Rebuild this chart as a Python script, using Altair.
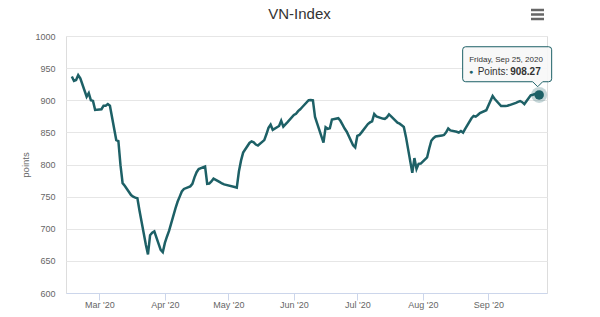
import altair as alt
import pandas as pd

# ---------------- data ----------------
dates = [
    "2020-02-17", "2020-02-18", "2020-02-19", "2020-02-20", "2020-02-21",
    "2020-02-24", "2020-02-25", "2020-02-26", "2020-02-27", "2020-02-28",
    "2020-03-02", "2020-03-03", "2020-03-04", "2020-03-05", "2020-03-06",
    "2020-03-09", "2020-03-10", "2020-03-11", "2020-03-12", "2020-03-13",
    "2020-03-16", "2020-03-17", "2020-03-18", "2020-03-19", "2020-03-20",
    "2020-03-23", "2020-03-24", "2020-03-25", "2020-03-26", "2020-03-27",
    "2020-03-30", "2020-03-31", "2020-04-01", "2020-04-02", "2020-04-03",
    "2020-04-06", "2020-04-07", "2020-04-08", "2020-04-09", "2020-04-10",
    "2020-04-13", "2020-04-14", "2020-04-15", "2020-04-16", "2020-04-17",
    "2020-04-20", "2020-04-21", "2020-04-22", "2020-04-23", "2020-04-24",
    "2020-04-27", "2020-04-28", "2020-04-29",
    "2020-05-04", "2020-05-05", "2020-05-06", "2020-05-07", "2020-05-08",
    "2020-05-11", "2020-05-12", "2020-05-13", "2020-05-14", "2020-05-15",
    "2020-05-18", "2020-05-19", "2020-05-20", "2020-05-21", "2020-05-22",
    "2020-05-25", "2020-05-26", "2020-05-27", "2020-05-28", "2020-05-29",
    "2020-06-01", "2020-06-02", "2020-06-03", "2020-06-04", "2020-06-05",
    "2020-06-08", "2020-06-09", "2020-06-10", "2020-06-11", "2020-06-12",
    "2020-06-15", "2020-06-16", "2020-06-17", "2020-06-18", "2020-06-19",
    "2020-06-22", "2020-06-23", "2020-06-24", "2020-06-25", "2020-06-26",
    "2020-06-29", "2020-06-30", "2020-07-01", "2020-07-02", "2020-07-03",
    "2020-07-06", "2020-07-07", "2020-07-08", "2020-07-09", "2020-07-10",
    "2020-07-13", "2020-07-14", "2020-07-15", "2020-07-16", "2020-07-17",
    "2020-07-20", "2020-07-21", "2020-07-22", "2020-07-23", "2020-07-24",
    "2020-07-27", "2020-07-28", "2020-07-29", "2020-07-30", "2020-07-31",
    "2020-08-03", "2020-08-04", "2020-08-05", "2020-08-06", "2020-08-07",
    "2020-08-10", "2020-08-11", "2020-08-12", "2020-08-13", "2020-08-14",
    "2020-08-17", "2020-08-18", "2020-08-19", "2020-08-20", "2020-08-21",
    "2020-08-24", "2020-08-25", "2020-08-26", "2020-08-27", "2020-08-28",
    "2020-08-31", "2020-09-03", "2020-09-04",
    "2020-09-07", "2020-09-08", "2020-09-09", "2020-09-10", "2020-09-11",
    "2020-09-14", "2020-09-15", "2020-09-16", "2020-09-17", "2020-09-18",
    "2020-09-21", "2020-09-22", "2020-09-23", "2020-09-24", "2020-09-25",
]

values = [
    937.0, 930.0, 931.5, 939.0, 934.0,
    905.5, 911.0, 900.0, 899.0, 885.0,
    886.0, 891.5, 891.5, 894.0, 891.5,
    838.0, 836.6, 799.0, 771.0, 767.0,
    752.5, 750.0, 748.5, 747.5, 728.0,
    675.0, 660.0, 690.0, 694.0, 696.0,
    667.0, 663.5, 678.0, 688.0, 697.0,
    731.8, 742.0, 750.0, 758.0, 762.0,
    766.0, 770.0, 780.0, 788.0, 793.0,
    797.0, 770.0, 770.5, 773.5, 778.0,
    772.5, 770.5, 769.0,
    765.0, 764.0, 789.0, 806.0, 818.5,
    833.5, 836.0, 834.5, 831.0, 829.5,
    838.0, 847.0, 857.0, 862.0, 854.0,
    860.0, 868.0, 859.0, 862.5, 866.0,
    877.0, 879.0, 883.0, 886.0, 889.5,
    900.0, 900.5, 900.0, 874.0, 864.0,
    834.0, 858.0, 855.5, 856.3, 870.0,
    872.0, 868.0, 862.0, 856.0, 851.0,
    830.0, 826.7, 844.4, 846.0, 850.0,
    863.0, 865.5, 867.0, 878.6, 875.0,
    871.5, 871.0, 873.4, 878.0, 875.0,
    865.0, 863.5, 861.0, 858.5, 843.0,
    787.0, 810.0, 793.0, 801.0, 801.5,
    811.0, 825.0, 837.0, 841.0, 843.5,
    845.0, 846.0, 850.0, 856.0, 853.0,
    851.0, 849.6, 852.0, 849.6, 855.5,
    872.0, 875.5, 874.5, 877.0, 880.0,
    884.5, 906.5, 902.0,
    891.0, 891.0, 891.0, 891.5, 892.5,
    896.0, 897.5, 898.8, 897.0, 894.0,
    907.7, 908.5, 909.5, 909.0, 908.27,
]

y_ticks = [600, 650, 700, 750, 800, 850, 900, 950, 1000]
chart_title = "VN-Index"
y_title = "points"
series_name = "Points"

# ---------------- styling ----------------
LINE = "#1d6066"
FONT = "Liberation Sans"
LABEL = "#666666"
TEXT = "#333333"

df = pd.DataFrame({"date": [d + "T00:00:00" for d in dates], "value": values})
last = df.iloc[[-1]]

x_scale = alt.Scale(domain=[
    alt.DateTime(year=2020, month=2, date=14, hours=5, minutes=30),
    alt.DateTime(year=2020, month=9, date=28, hours=17),
])
y_scale = alt.Scale(domain=[600, 1000], nice=False, zero=False)

x_axis = alt.Axis(
    title=None, format="%b '%y", tickCount="month", grid=False,
    domainColor="#ccd6eb", tickColor="#ccd6eb", tickSize=7, labelPadding=0,
    labelColor=LABEL, labelFontSize=9, labelFont=FONT,
)
y_axis = alt.Axis(
    title=y_title, values=y_ticks, format="d", labelOverlap=False,
    domain=False, ticks=False,
    gridColor="#e6e6e6", gridWidth=1, labelPadding=11,
    labelColor=LABEL, labelFontSize=9, labelFont=FONT,
    titleColor=LABEL, titleFontSize=9.5, titleFont=FONT,
    titleFontWeight="normal", titlePadding=4,
)

X = alt.X("date:T", scale=x_scale, axis=x_axis)
Y = alt.Y("value:Q", scale=y_scale, axis=y_axis)

line = alt.Chart(df).mark_line(color=LINE, strokeWidth=2.5).encode(x=X, y=Y)

halo = alt.Chart(last).mark_point(
    filled=True, shape="circle", size=256, color=LINE, opacity=0.25
).encode(x=X, y=Y)
dot = alt.Chart(last).mark_point(
    filled=True, shape="circle", size=90, color=LINE, opacity=1
).encode(x=X, y=Y)

# tooltip callout (path in pixel units relative to the last point, size=4 -> scale 1)
callout = ("M -73.5 -48.2 L 9.5 -48.2 Q 12.5 -48.2 12.5 -45.2 L 12.5 -16.2 "
           "Q 12.5 -13.2 9.5 -13.2 L 3.5 -13.2 L -1.5 -8.2 L -6.5 -13.2 "
           "L -73.5 -13.2 Q -76.5 -13.2 -76.5 -16.2 L -76.5 -45.2 "
           "Q -76.5 -48.2 -73.5 -48.2 Z")
box = alt.Chart(last).mark_point(
    shape=callout, size=4, filled=True, fill="#f7f7f7", fillOpacity=0.9,
    stroke=LINE, strokeWidth=1, strokeOpacity=1, opacity=1
).encode(x=X, y=Y)

header = alt.Chart(last).mark_text(
    align="left", baseline="middle", dx=-70, dy=-35, fontSize=8,
    color=TEXT, font=FONT
).encode(x=X, y=Y, text=alt.Text("date:T", format="%A, %b %d, %Y"))
bullet = alt.Chart(last).mark_text(
    text="●", align="center", baseline="middle", dx=-68, dy=-22.5,
    fontSize=7, color=LINE, font=FONT
).encode(x=X, y=Y)
name = alt.Chart(last).mark_text(
    text=series_name + ":", align="left", baseline="middle", dx=-61.5, dy=-22.5,
    fontSize=10, color=TEXT, font=FONT
).encode(x=X, y=Y)
val = alt.Chart(last).mark_text(
    align="left", baseline="middle", dx=-29, dy=-22.5,
    fontSize=10, fontWeight="bold", color=TEXT, font=FONT
).encode(x=X, y=Y, text=alt.Text("value:Q", format=".2f"))

# export-menu (hamburger) icon
menu = [
    alt.Chart(last).mark_rule(color="#666666", strokeWidth=2.5).encode(
        x=alt.value(465), x2=alt.value(478), y=alt.value(yy))
    for yy in (-26, -21.5, -17)
]

chart = alt.layer(line, halo, dot, box, header, bullet, name, val, *menu).properties(
    width=481, height=257,
    title=alt.TitleParams(chart_title, fontSize=15, font=FONT, color=TEXT,
                          fontWeight="normal", anchor="middle", offset=-13, dx=-7),
    autosize=alt.AutoSizeParams(type="none"),
    padding={"left": 66, "top": 36, "right": 53, "bottom": 24},
).configure_view(stroke=None).configure(background="white")

chart.save("out.html", embed_options={"renderer": "svg", "actions": False})
